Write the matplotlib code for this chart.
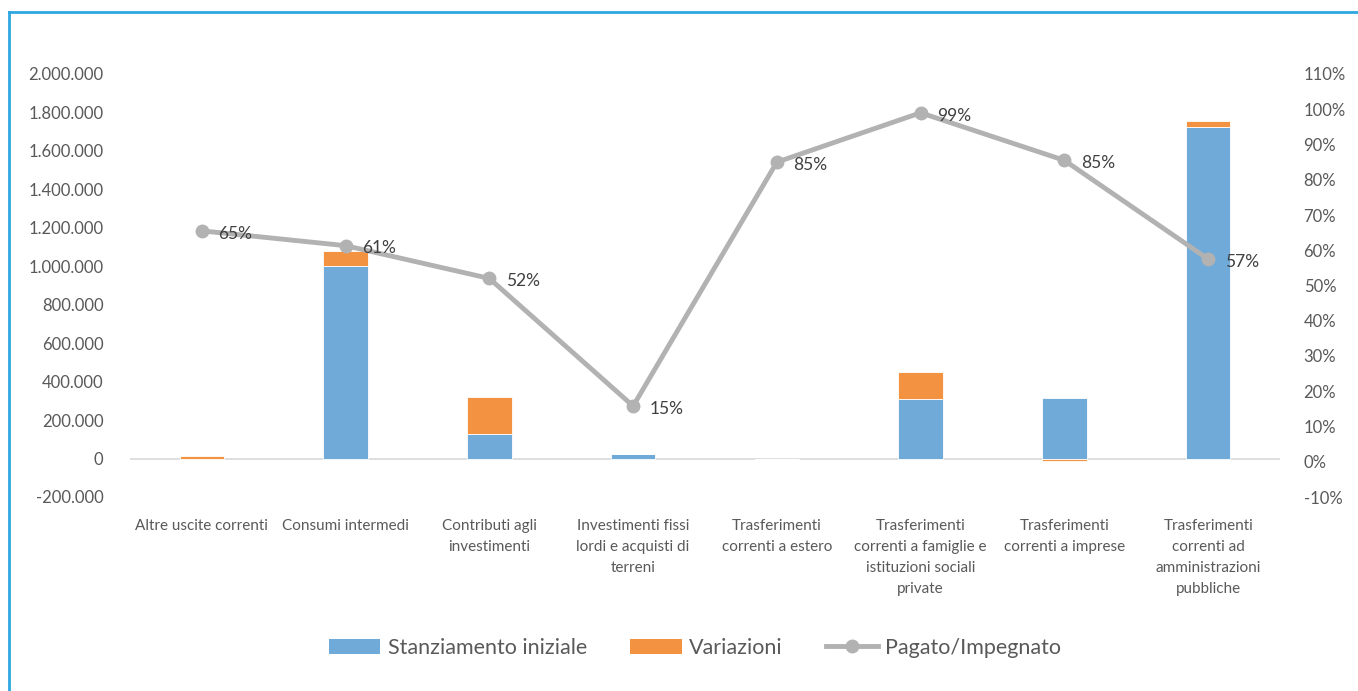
import numpy as np
import matplotlib
matplotlib.use("Agg")
import matplotlib.pyplot as plt
from matplotlib.ticker import FuncFormatter, MultipleLocator
from matplotlib.patches import Patch
from matplotlib.lines import Line2D

plt.rcParams['font.family'] = ['Lato', 'DejaVu Sans']

# --- data ---
categories = ["Altre uscite correnti", "Consumi intermedi",
              "Contributi agli\ninvestimenti",
              "Investimenti fissi\nlordi e acquisti di\nterreni",
              "Trasferimenti\ncorrenti a estero",
              "Trasferimenti\ncorrenti a famiglie e\nistituzioni sociali\nprivate",
              "Trasferimenti\ncorrenti a imprese",
              "Trasferimenti\ncorrenti ad\namministrazioni\npubbliche"]
stanziamento = [0, 1000000, 130000, 22000, 0, 308000, 315000, 1725000]
variazioni = [15000, 80000, 188000, 3000, 0, 142000, -14000, 32000]
pagato = [0.655, 0.613, 0.52, 0.158, 0.85, 0.99, 0.855, 0.575]
pagato_labels = ["65%", "61%", "52%", "15%", "85%", "99%", "85%", "57%"]

BLUE = "#6FAAD8"
ORANGE = "#F39241"
GREY_LINE = "#B2B2B2"
TXT = "#595959"

fig = plt.figure(figsize=(13.58, 6.91), dpi=100)
W, H = 1358, 691

# blue frame (only left and top edges are visible in the picture)
fig.add_artist(Line2D([9 / W, 9 / W], [0, 1 - 12 / H], color="#2EA7E0", lw=2,
                      transform=fig.transFigure))
fig.add_artist(Line2D([9 / W, 1], [1 - 12 / H, 1 - 12 / H], color="#2EA7E0", lw=2,
                      transform=fig.transFigure))

ax = fig.add_axes([130 / W, 1 - 497 / H, 1150 / W, 423 / H])
x = np.arange(len(categories))
stanz = np.array(stanziamento)
var = np.array(variazioni)
bottom_var = np.where(var >= 0, stanz, 0)

ax.bar(x, stanz, width=0.31, color=BLUE, edgecolor="white", linewidth=0.6, zorder=2)
ax.bar(x, var, bottom=bottom_var, width=0.31, color=ORANGE, edgecolor="white",
       linewidth=0.6, zorder=2)
ax.axhline(0, color="#D9D9D9", lw=1.2, zorder=1)

ax.set_xlim(-0.5, len(categories) - 0.5)
ax.set_ylim(-200000, 2000000)
ax.yaxis.set_major_locator(MultipleLocator(200000))
ax.yaxis.set_major_formatter(FuncFormatter(lambda v, p: f"{v:,.0f}".replace(",", ".")))
ax.set_xticks(x)
ax.set_xticklabels(categories, fontsize=11, color=TXT, linespacing=1.62, va="top")
ax.tick_params(axis="x", length=0, pad=16)
ax.tick_params(axis="y", length=0, pad=19, labelsize=12, labelcolor=TXT)
for s in ax.spines.values():
    s.set_visible(False)

ax2 = ax.twinx()
ax2.plot(x, pagato, color=GREY_LINE, lw=3.5, marker="o", markersize=9, zorder=3)
for xi, yi, lab in zip(x, pagato, pagato_labels):
    ax2.annotate(lab, (xi, yi), xytext=(12, -2), textcoords="offset points",
                 ha="left", va="center", fontsize=12.5, color="#404040")
ax2.set_ylim(-0.10, 1.10)
ax2.yaxis.set_major_locator(MultipleLocator(0.1))
ax2.yaxis.set_major_formatter(FuncFormatter(lambda v, p: f"{v * 100:.0f}%"))
ax2.tick_params(axis="y", length=0, pad=17, labelsize=12, labelcolor=TXT)
for s in ax2.spines.values():
    s.set_visible(False)

handles = [Patch(facecolor=BLUE), Patch(facecolor=ORANGE),
           Line2D([0], [0], color=GREY_LINE, lw=3.5, marker="o", markersize=9)]
fig.legend(handles, ["Stanziamento iniziale", "Variazioni", "Pagato/Impegnato"],
           loc="center", bbox_to_anchor=(695 / W, 1 - 648 / H), ncol=3, frameon=False,
           fontsize=15.5, labelcolor=TXT, handlelength=2.4, handleheight=0.75,
           columnspacing=2.0, handletextpad=0.35)

fig.savefig("out.png", dpi=100, facecolor="white")
